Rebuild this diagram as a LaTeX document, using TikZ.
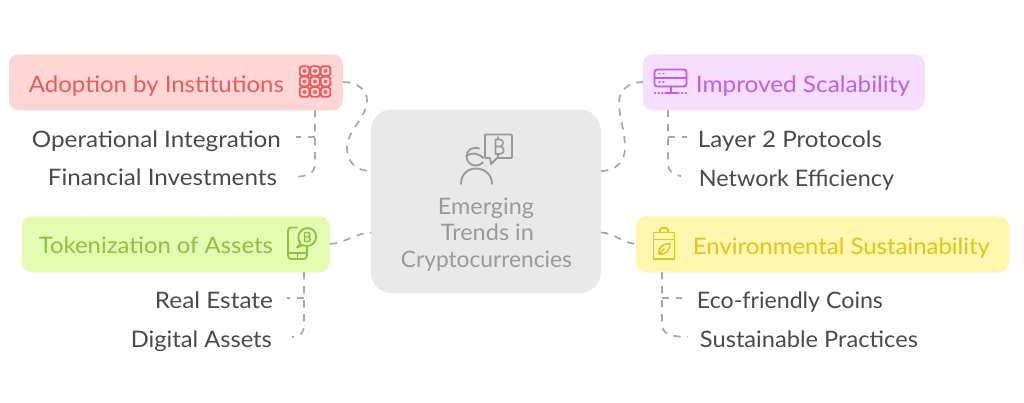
\documentclass[tikz,border=0pt]{standalone}
\usepackage{graphicx}
\usepackage{fontspec}
\setmainfont{Lato}
\definecolor{inkdark}{HTML}{4A4A4A}
\definecolor{linegray}{HTML}{A8A8A8}
\definecolor{redfill}{HTML}{FFD6D6}
\definecolor{redink}{HTML}{EC5B5B}
\definecolor{greenfill}{HTML}{E4FBB2}
\definecolor{greenink}{HTML}{8FC040}
\definecolor{purplefill}{HTML}{F5DEFF}
\definecolor{purpleink}{HTML}{BF5FEA}
\definecolor{yellowfill}{HTML}{FFF6B0}
\definecolor{yellowink}{HTML}{E2C516}
\definecolor{centerfill}{HTML}{E9E9E9}
\definecolor{centerink}{HTML}{999999}
\newcommand{\fitw}[2]{\resizebox{\dimexpr #1pt*3/4\relax}{\height}{#2}}
\tikzset{
  panel/.style={draw=none,rounded corners=7.5pt,inner sep=0pt,anchor=north west},
  lbl/.style={inner sep=0pt,anchor=base west,xshift=0.5pt,font=\fontsize{17}{20}\selectfont},
  leaf/.style={lbl,text=inkdark},
  link/.style={draw=linegray,line width=1.3pt,dash pattern=on 5.5pt off 5pt},
  glyph/.style={line width=1.4pt,line cap=round,line join=round,fill=none},
}
\begin{document}
\begin{tikzpicture}[x=0.75pt,y=-0.75pt]
\useasboundingbox[fill=white] (0,0) rectangle (1024,403);

% panels
\node[panel,fill=redfill,minimum width=250.5pt,minimum height=42pt] (adopt) at (8.5,54) {};
\node[panel,fill=greenfill,minimum width=231pt,minimum height=42pt] (token) at (21.5,216) {};
\node[panel,fill=purplefill,minimum width=211.5pt,minimum height=42pt] (scale) at (642.5,54) {};
\node[panel,fill=yellowfill,minimum width=279.75pt,minimum height=42pt] (env) at (635.5,216) {};
\node[panel,fill=centerfill,rounded corners=16pt,minimum width=172.5pt,minimum height=138pt] (hub) at (370.5,109) {};

% labels
\node[lbl,text=redink] (adoptT) at (28,93) {\fitw{255}{Adoption by Institutions}};
\node[leaf] (opI) at (31,147) {\fitw{249}{Operational Integration}};
\node[leaf] (finI) at (47,185) {\fitw{229}{Financial Investments}};
\node[lbl,text=greenink] (tokenT) at (38,253) {\fitw{234}{Tokenization of Assets}};
\node[leaf] (realE) at (154,308) {\fitw{118}{Real Estate}};
\node[leaf] (digA) at (130,347) {\fitw{141}{Digital Assets}};
\node[lbl,text=purpleink] (scaleT) at (695,93) {\fitw{214}{Improved Scalability}};
\node[leaf] (layer) at (697,147) {\fitw{184}{Layer 2 Protocols}};
\node[leaf] (netE) at (698,186) {\fitw{195}{Network Efficiency}};
\node[lbl,text=yellowink] (envT) at (692,254) {\fitw{297}{Environmental Sustainability}};
\node[leaf] (eco) at (696,308) {\fitw{186}{Eco-friendly Coins}};
\node[leaf] (susP) at (699,347) {\fitw{218}{Sustainable Practices}};
\node[lbl,text=centerink] (h1) at (437,214) {\fitw{96}{Emerging}};
\node[lbl,text=centerink] (h2) at (440,240) {\fitw{93}{Trends in}};
\node[lbl,text=centerink] (h3) at (400,267) {\fitw{171}{Cryptocurrencies}};

% connector ends
\coordinate (aE) at (343,82);
\coordinate (hubLU) at (371,171);
\coordinate (hubLD) at (371,232.5);
\coordinate (hubRU) at (601,171);
\coordinate (hubRD) at (601,232.5);
\coordinate (tE) at (330,244);
\coordinate (sW) at (643,82);
\coordinate (eW) at (636,244);
\coordinate (aS) at (315,110);
\coordinate (tS) at (304,272);
\coordinate (sS) at (668,110);
\coordinate (eS) at (662,272);
\coordinate (aB) at (315,137);
\coordinate (tB) at (304,298);
\coordinate (sB) at (668,137);
\coordinate (eB) at (662,298);
\coordinate (opE) at (296,137);
\coordinate (finE) at (292,177);
\coordinate (realEnd) at (287,298);
\coordinate (digEnd) at (292,337);
\coordinate (layEnd) at (687,137);
\coordinate (netEnd) at (681,176);
\coordinate (ecoEnd) at (682,298);
\coordinate (susEnd) at (688,337);

% connectors
\draw[link] (aE) .. controls (357,82) and (367,90) .. (367,100)
  .. controls (367,118) and (347,130) .. (347,148)
  .. controls (347,162) and (356,171) .. (hubLU);
\draw[link] (tE) .. controls (345,243) and (356,233) .. (hubLD);
\draw[link] (hubRU) .. controls (617,171) and (625,160) .. (625,148)
  .. controls (625,130) and (619,118) .. (619,102)
  .. controls (619,90) and (629,82) .. (sW);
\draw[link] (hubRD) .. controls (615,233) and (622,243) .. (eW);
\draw[link] (aS) -- (315,165) .. controls (315,172) and (308,177) .. (finE);
\draw[link] (aB) -- (opE);
\draw[link] (tS) -- (304,326) .. controls (304,333) and (299,337) .. (digEnd);
\draw[link] (tB) -- (realEnd);
\draw[link] (sS) -- (668,164) .. controls (668,171) and (673,175) .. (netEnd);
\draw[link] (sB) -- (layEnd);
\draw[link] (eS) -- (662,325) .. controls (662,333) and (670,337) .. (susEnd);
\draw[link] (eB) -- (ecoEnd);

% grid icon
\foreach \cx in {304.5,315,325.5}
  \foreach \cy in {71,81.5,92}{
    \draw[glyph,draw=redink,rounded corners=1.2pt] (\cx-4.7,\cy-4.7) rectangle (\cx+4.7,\cy+4.7);
    \draw[glyph,draw=redink,line width=1pt] (\cx,\cy) circle[radius=1.5];
  }

% phone icon
\draw[glyph,draw=greenink] (297,227.5) -- (291,227.5) .. controls (289,227.5) and (288,229) .. (288,231)
  -- (288,255) .. controls (288,257.5) and (289,259) .. (291,259) -- (304,259)
  .. controls (306,259) and (307,257.5) .. (307,255) -- (307,247);
\draw[glyph,draw=greenink] (288,253) -- (307,253) (297.5,253) -- (297.5,259);
\draw[glyph,draw=greenink] (300.5,243.5) .. controls (295,236) and (301,228) .. (307,228)
  .. controls (313,228) and (316,232) .. (316,237) .. controls (316,243) and (311,246) .. (307,246)
  .. controls (305,246) and (304,245.5) .. (303,245) -- (297,247.5) -- (300.5,243.5);
\draw[glyph,draw=greenink,line width=1.1pt] (304.5,232.5) -- (304.5,241.5)
  (304.5,232.5) -- (308,232.5) .. controls (310.5,232.5) and (310.5,237) .. (308,237) -- (304.5,237)
  (308,237) .. controls (311,237) and (311,241.5) .. (308,241.5) -- (304.5,241.5);

% person icon
\draw[glyph,draw=centerink] (479,148.5) .. controls (472,146) and (466.5,150.5) .. (466.5,156.5)
  .. controls (466.5,162) and (471,165.5) .. (475.5,165.5) .. controls (478.5,165.5) and (481,164.5) .. (483,162.5);
\draw[glyph,draw=centerink] (467,155.5) .. controls (472,152.5) and (477,152.5) .. (483.5,158);
\draw[glyph,draw=centerink] (461,184) .. controls (461,174) and (468,168.5) .. (476,168.5)
  .. controls (484,168.5) and (492,174) .. (492,184);
\draw[glyph,draw=centerink] (485,134.5) -- (511,134.5) .. controls (511.5,134.5) and (512,135) .. (512,135.5)
  -- (512,157) .. controls (512,157.5) and (511.5,158) .. (511,158) -- (497,158) -- (491,164)
  -- (490,158) -- (486,158) .. controls (485.5,158) and (485,157.5) .. (485,157) -- (485,135.5)
  .. controls (485,135) and (485.5,134.5) .. (486,134.5);
\draw[glyph,draw=centerink,line width=1.2pt] (495.5,139.5) -- (495.5,154)
  (495.5,139.5) -- (500,139.5) .. controls (504,139.5) and (504,146.5) .. (500,146.5) -- (495.5,146.5)
  (500,146.5) .. controls (505,146.5) and (505,154) .. (500,154) -- (495.5,154)
  (498,137) -- (498,139.5) (498,154) -- (498,157);

% server icon
\draw[glyph,draw=purpleink,rounded corners=2pt] (654.5,69.5) rectangle (686.5,86.5);
\draw[glyph,draw=purpleink] (654.5,78) -- (686.5,78) (671,86.5) -- (671,93) (665,93) -- (677,93);
\draw[glyph,draw=purpleink,dash pattern=on 0.6pt off 2.2pt] (654.5,93) -- (664,93) (678,93) -- (687,93);
\draw[glyph,draw=purpleink,dash pattern=on 0.6pt off 2.4pt] (659,73.5) -- (666,73.5) (659,82) -- (666,82);

% battery leaf icon
\draw[glyph,draw=yellowink] (653.5,232.5) rectangle (674.5,259);
\draw[glyph,draw=yellowink] (653.5,239.5) -- (674.5,239.5);
\draw[glyph,draw=yellowink,rounded corners=1pt] (660,232.5) -- (660,228) -- (668,228) -- (668,232.5);
\draw[glyph,draw=yellowink,line width=1.1pt] (659,254) .. controls (658,247) and (663,243.5) .. (670,243.5)
  .. controls (670,250) and (666,255) .. (659,254) -- (664,249);
\end{tikzpicture}
\end{document}
